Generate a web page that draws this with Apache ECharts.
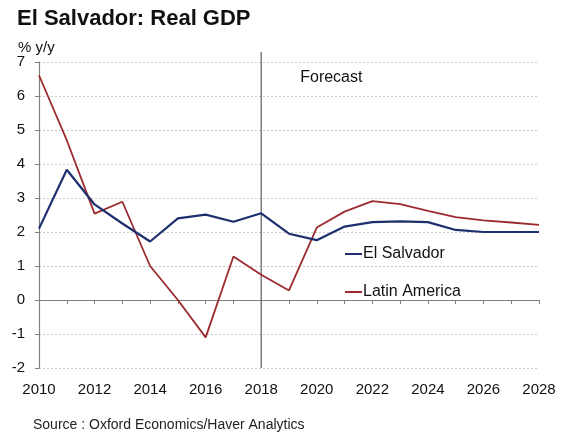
<!DOCTYPE html>
<html>
<head>
<meta charset="utf-8">
<script src="https://cdn.jsdelivr.net/npm/echarts@6/dist/echarts.min.js"></script>
<style>html,body{margin:0;padding:0;background:#fff;}#c{width:563px;height:436px;}</style>
</head>
<body>
<div id="c"></div>
<script>
const years = [2010,2011,2012,2013,2014,2015,2016,2017,2018,2019,2020,2021,2022,2023,2024,2025,2026,2027,2028];
const elSalvador = [2.1,3.83,2.81,2.25,1.72,2.40,2.51,2.30,2.55,1.95,1.76,2.16,2.29,2.31,2.29,2.06,2.00,2.00,2.00];
const latinAmerica = [6.61,4.7,2.54,2.89,1.0,0.0,-1.1,1.28,0.74,0.28,2.13,2.6,2.91,2.82,2.62,2.44,2.34,2.28,2.21];
const forecastStart = 2018;
const seriesNames = ['El Salvador','Latin America'];
const colors = ['#1d2f6f','#9c2a30'];
const FONT = 'Liberation Sans, Arial, sans-serif';

const chart = echarts.init(document.getElementById('c'), null, {renderer:'canvas'});
const pair = arr => years.map((y,i)=>[y,arr[i]]);
chart.setOption({
  animation:false,
  backgroundColor:'#fff',
  textStyle:{fontFamily:FONT},
  title:[
    {text:'El Salvador: Real GDP', left:12, top:3, textStyle:{fontFamily:FONT,fontSize:22,fontWeight:'bold',color:'#111'}},
    {text:'% y/y', left:13, top:35, textStyle:{fontFamily:FONT,fontSize:15,fontWeight:'normal',color:'#111'}},
    {text:'Source : Oxford Economics/Haver Analytics', left:28, top:413, textStyle:{fontFamily:FONT,fontSize:14,fontWeight:'normal',color:'#222'}}
  ],
  grid:{left:39,right:24,top:62,bottom:68},
  legend:{
    orient:'vertical', left:340, top:241, itemGap:22,
    itemWidth:17, itemHeight:2,
    icon:'rect',
    textStyle:{fontFamily:FONT,fontSize:16,color:'#111',padding:[0,0,0,-4]},
    data:seriesNames
  },
  xAxis:[
    {type:'value',min:2010,max:2028,interval:2,position:'bottom',
     axisLine:{show:false,onZero:false},axisTick:{show:false},splitLine:{show:false},
     axisLabel:{fontFamily:FONT,fontSize:15,color:'#111',margin:14,formatter:v=>String(v)}},
    {type:'value',min:2010,max:2028,interval:1,position:'bottom',
     axisLine:{show:true,onZero:true,lineStyle:{color:'#808080',width:1.2}},
     axisTick:{show:true,length:4,lineStyle:{color:'#808080'}},
     axisLabel:{show:false},splitLine:{show:false}}
  ],
  yAxis:{type:'value',min:-2,max:7,interval:1,
    axisLine:{show:true,lineStyle:{color:'#808080',width:1.2}},
    axisTick:{show:true,length:4,lineStyle:{color:'#808080'}},
    axisLabel:{fontFamily:FONT,fontSize:15,color:'#111',margin:14},
    splitLine:{show:true,lineStyle:{color:'#c8c8c8',type:[2,2],width:1}}},
  series:[
    {name:seriesNames[0],type:'line',data:pair(elSalvador),symbol:'none',
     lineStyle:{color:colors[0],width:2.2},itemStyle:{color:colors[0]},z:3},
    {name:seriesNames[1],type:'line',data:pair(latinAmerica),symbol:'none',
     lineStyle:{color:colors[1],width:1.8},itemStyle:{color:colors[1]},z:2}
  ]
});
const xf = chart.convertToPixel({xAxisIndex:0}, forecastStart);
const yTop = chart.convertToPixel({yAxisIndex:0}, 7);
const yBot = chart.convertToPixel({yAxisIndex:0}, -2);
chart.setOption({graphic:[
  {type:'line',shape:{x1:xf,y1:yTop-10,x2:xf,y2:yBot},style:{stroke:'#6a6a6a',lineWidth:1.3},z:1},
  {type:'text',left:xf+39,top:yTop+8,style:{text:'Forecast',font:'16px '+FONT,fill:'#111'}}
]});
</script>
</body>
</html>
